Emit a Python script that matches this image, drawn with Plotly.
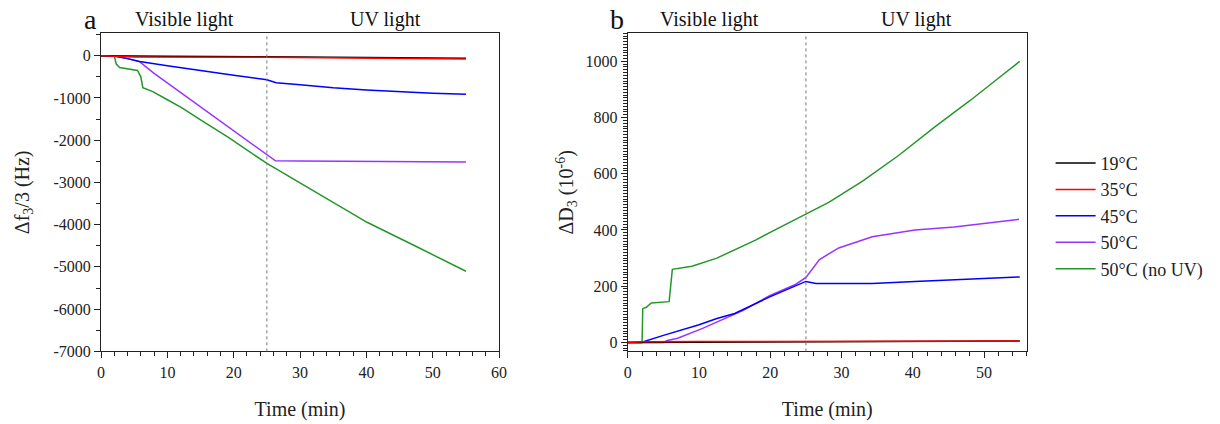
import plotly.graph_objects as go

# ---------------- Panel a: frequency shift (Hz) ----------------
t19a = [0, 2, 10, 25, 35, 45, 55]
v19a = [0, -5, -15, -25, -40, -50, -60]
t35a = [0, 2, 5, 25, 40, 55]
v35a = [0, -10, -30, -35, -55, -80]
t45a = [0, 2, 4, 5.8, 10, 15, 20, 25, 26.4, 30, 35, 40, 45, 50, 55]
v45a = [0, -10, -70, -138, -240, -360, -465, -570, -640, -690, -760, -810, -855, -890, -915]
t50a = [0, 2, 4, 5.8, 8, 15, 20, 25, 26.3, 30, 40, 50, 55]
v50a = [0, -10, -70, -140, -420, -1210, -1775, -2345, -2490, -2495, -2500, -2510, -2515]
t50nuva = [0, 2, 2.3, 2.8, 5.5, 6.0, 6.3, 7.8, 10, 12.2, 15, 19.2, 25, 29, 33.1, 40.1, 47.6, 55]
v50nuva = [0, -10, -200, -280, -350, -500, -757, -850, -1043, -1237, -1520, -1935, -2552, -2920, -3286, -3944, -4524, -5104]
ytick_vals_a = [0, -1000, -2000, -3000, -4000, -5000, -6000, -7000]
ytick_text_a = ["0", "-1000", "-2000", "-3000", "-4000", "-5000", "-6000", "-7000"]

# ---------------- Panel b: dissipation shift (1e-6) ----------------
t19b = [0, 10, 25, 40, 50, 55]
v19b = [0, 1, 2, 3, 4, 5]
t35b = [0, 2, 10, 25, 40, 55]
v35b = [0, 2, 3, 3, 4, 5]
t45b = [0, 1.85, 5, 10, 12.5, 15, 20, 25, 26.4, 30, 34.3, 40.3, 45, 50, 55]
v45b = [0, 0, 25, 63, 85, 103, 163, 217, 210, 209, 210, 217, 222, 228, 233]
t50b = [0, 5, 5.55, 7, 10.5, 16.2, 19.9, 23.6, 25, 26, 26.9, 29.6, 34.3, 40.3, 45.8, 54.9]
v50b = [0, 0, 7, 15, 50, 114, 166, 207, 231, 265, 295, 336, 376, 400, 411, 438]
t50nuvb = [0, 2, 2.1, 2.6, 3.3, 5.8, 6.25, 9, 12.5, 15, 18, 21, 25, 28.2, 33, 38, 43, 48, 52, 54.8, 55]
v50nuvb = [0, 0, 120, 125, 140, 145, 260, 271, 300, 330, 365, 405, 458, 498, 575, 665, 765, 860, 940, 998, 1000]

names = ["19°C", "35°C", "45°C", "50°C", "50°C (no UV)"]
colors = ["#000000", "#ff0000", "#0000ff", "#9933ff", "#26962b"]
panel_a = [(t19a, v19a), (t35a, v35a), (t45a, v45a), (t50a, v50a), (t50nuva, v50nuva)]
panel_b = [(t19b, v19b), (t35b, v35b), (t45b, v45b), (t50b, v50b), (t50nuvb, v50nuvb)]

region_labels = ["Visible light", "UV light"]
panel_letters = ["a", "b"]
switch_time = 25

FONT = "Liberation Serif"
W, H = 1220, 424

fig = go.Figure()
order = [4, 3, 2, 0, 1]  # red drawn over black
for i in order:
    t, v = panel_a[i]
    fig.add_trace(go.Scatter(x=t, y=v, mode="lines", line=dict(color=colors[i], width=1.5),
                             xaxis="x", yaxis="y", showlegend=False, name=names[i]))
for i in order:
    t, v = panel_b[i]
    fig.add_trace(go.Scatter(x=t, y=v, mode="lines", line=dict(color=colors[i], width=1.5),
                             xaxis="x2", yaxis="y2", name=names[i], legendgroup=names[i],
                             legendrank=i + 1))

def px(x):
    return x / W

def py(y):
    return 1 - y / H

ydom = [py(359), py(34)]
common = dict(showline=True, linecolor="#222", linewidth=1.2, mirror=True, ticks="outside",
              ticklen=6, tickwidth=1.2, tickcolor="#222", showgrid=False, zeroline=False,
              tickfont=dict(family=FONT, size=16, color="#222"))
minor_style = dict(ticks="outside", ticklen=3.5, tickwidth=1.2, tickcolor="#222")
title_font = dict(family=FONT, size=20, color="#222")

fig.update_layout(
    width=W, height=H, margin=dict(l=0, r=0, t=0, b=0),
    paper_bgcolor="white", plot_bgcolor="white",
    font=dict(family=FONT, color="#222"),
    xaxis=dict(domain=[px(98), px(500)], range=[0, 60], dtick=10, anchor="y",
               minor=dict(dtick=2, **minor_style),
               title=dict(text="Time (min)", font=title_font, standoff=22), **common),
    yaxis=dict(domain=ydom, range=[-7000, 530], tickmode="array", tickvals=ytick_vals_a,
               ticktext=ytick_text_a, anchor="x",
               minor=dict(tick0=0, dtick=500, **minor_style),
               title=dict(text="Δf<sub>3</sub>/3 (Hz)", font=title_font, standoff=18), **common),
    xaxis2=dict(domain=[px(630), px(1033)], range=[0, 56], dtick=10, anchor="y2",
                minor=dict(dtick=2, **minor_style),
                title=dict(text="Time (min)", font=title_font, standoff=22), **common),
    yaxis2=dict(domain=ydom, range=[-32, 1100], dtick=200, anchor="x2",
                minor=dict(dtick=10, **minor_style),
                title=dict(text="ΔD<sub>3</sub> (10<sup>-6</sup>)", font=title_font, standoff=6), **common),
    legend=dict(x=px(1057), y=py(148), xanchor="left", yanchor="top",
                font=dict(family=FONT, size=18, color="#222"), tracegroupgap=0,
                bgcolor="rgba(0,0,0,0)", itemwidth=40),
)

for xr, yr in [("x", "y"), ("x2", "y2")]:
    fig.add_shape(type="line", xref=xr, yref=f"{yr} domain", x0=switch_time, x1=switch_time,
                  y0=0, y1=1, line=dict(color="#777", width=1, dash="dot"))

ann_pos = [
    (panel_letters[0], 87, 20, 28),
    (region_labels[0], 182, 20, 20),
    (region_labels[1], 385, 20, 20),
    (panel_letters[1], 619, 20, 28),
    (region_labels[0], 713, 20, 20),
    (region_labels[1], 922, 20, 20),
]
for text, x, y, size in ann_pos:
    fig.add_annotation(text=text, x=px(x), y=py(y), xref="paper", yref="paper",
                       showarrow=False, xanchor="center", yanchor="middle",
                       font=dict(family=FONT, size=size, color="#111"))

fig.write_html("out.html")
